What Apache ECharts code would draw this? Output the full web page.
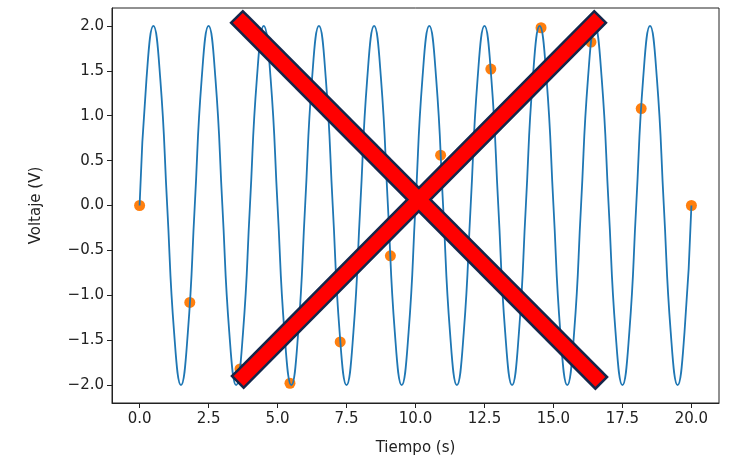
<!DOCTYPE html>
<html style="height: 100%; margin: 0;">
<head>
    <meta charset="utf-8" />
    <title></title>
    <script src="https://cdn.jsdelivr.net/npm/echarts@6/dist/echarts.min.js" type="text/javascript" charset="utf-8"></script>
</head>
<body style="height: 100%; margin: 0; background: #fff;">
<div id="main" style="width: 733px; height: 463px; padding: 0px; margin: 0px;"></div>
<script type="text/javascript">
// senal continua, leida cada 1/8 de periodo (periodo 2 s)
var waveT = [0, 0.25, 0.5, 0.75, 1, 1.25, 1.5, 1.75, 2, 2.25, 2.5, 2.75, 3, 3.25, 3.5, 3.75,
    4, 4.25, 4.5, 4.75, 5, 5.25, 5.5, 5.75, 6, 6.25, 6.5, 6.75, 7, 7.25, 7.5, 7.75,
    8, 8.25, 8.5, 8.75, 9, 9.25, 9.5, 9.75, 10, 10.25, 10.5, 10.75, 11, 11.25, 11.5, 11.75,
    12, 12.25, 12.5, 12.75, 13, 13.25, 13.5, 13.75, 14, 14.25, 14.5, 14.75, 15, 15.25, 15.5, 15.75,
    16, 16.25, 16.5, 16.75, 17, 17.25, 17.5, 17.75, 18, 18.25, 18.5, 18.75, 19, 19.25, 19.5, 19.75, 20];
var waveV = [0, 1.41, 2, 1.41, 0, -1.41, -2, -1.41, 0, 1.41, 2, 1.41, 0, -1.41, -2, -1.41,
    0, 1.41, 2, 1.41, 0, -1.41, -2, -1.41, 0, 1.41, 2, 1.41, 0, -1.41, -2, -1.41,
    0, 1.41, 2, 1.41, 0, -1.41, -2, -1.41, 0, 1.41, 2, 1.41, 0, -1.41, -2, -1.41,
    0, 1.41, 2, 1.41, 0, -1.41, -2, -1.41, 0, 1.41, 2, 1.41, 0, -1.41, -2, -1.41,
    0, 1.41, 2, 1.41, 0, -1.41, -2, -1.41, 0, 1.41, 2, 1.41, 0, -1.41, -2, -1.41, 0];

// muestras (puntos naranjas)
var sampleT = [0, 1.82, 3.64, 5.45, 7.27, 9.09, 10.91, 12.73, 14.55, 16.36, 18.18, 20];
var sampleV = [0, -1.08, -1.82, -1.98, -1.52, -0.56, 0.56, 1.52, 1.98, 1.82, 1.08, 0];

// la cruz roja encima
var cross1 = [[3.74, 2.035], [16.52, -1.91]];
var cross2 = [[3.77, -1.90], [16.48, 2.035]];

var xTicks = [0, 2.5, 5, 7.5, 10, 12.5, 15, 17.5, 20];
var yTicks = [-2, -1.5, -1, -0.5, 0, 0.5, 1, 1.5, 2];

function zip(a, b) {
    var out = [];
    for (var i = 0; i < a.length; i++) out.push([a[i], b[i]]);
    return out;
}
function fmt(v) {
    return v.toFixed(1).replace('-', '\u2212');
}

var font = 'DejaVu Sans';
var myChart = echarts.init(document.getElementById('main'), null, {renderer: 'canvas'});
myChart.setOption({
    animation: false,
    backgroundColor: '#fff',
    textStyle: {fontFamily: font},
    grid: {
        left: 112, right: 14, top: 8, bottom: 60,
        show: true, borderColor: '#222', borderWidth: 1, backgroundColor: '#fff'
    },
    xAxis: {
        type: 'value', min: -1, max: 21,
        name: 'Tiempo (s)', nameLocation: 'middle', nameGap: 38,
        nameTextStyle: {fontSize: 15, color: '#222', fontFamily: font},
        axisLine: {show: true, onZero: false, lineStyle: {color: '#222'}},
        axisTick: {show: true, length: 5, customValues: xTicks, lineStyle: {color: '#222'}},
        axisLabel: {customValues: xTicks, formatter: fmt, fontSize: 15, color: '#222', margin: 9},
        splitLine: {show: false}
    },
    yAxis: {
        type: 'value', min: -2.2, max: 2.2,
        name: 'Voltaje (V)', nameLocation: 'middle', nameGap: 68,
        nameTextStyle: {fontSize: 15, color: '#222', fontFamily: font},
        axisLine: {show: true, onZero: false, lineStyle: {color: '#222'}},
        axisTick: {show: true, length: 5, customValues: yTicks, lineStyle: {color: '#222'}},
        axisLabel: {customValues: yTicks, formatter: fmt, fontSize: 15, color: '#222', margin: 8},
        splitLine: {show: false}
    },
    series: [{
        name: 'senal', type: 'line', data: zip(waveT, waveV),
        smooth: 0.5, showSymbol: false, symbol: 'none',
        lineStyle: {color: '#1f77b4', width: 1.8}
    }, {
        name: 'muestras', type: 'scatter', data: zip(sampleT, sampleV),
        symbolSize: 11, itemStyle: {color: '#ff7f0e', opacity: 1}
    }, {
        name: 'cruz1b', type: 'line', data: cross1, symbol: 'none',
        lineStyle: {color: '#14264a', width: 19, cap: 'square'}
    }, {
        name: 'cruz2b', type: 'line', data: cross2, symbol: 'none',
        lineStyle: {color: '#14264a', width: 19, cap: 'square'}
    }, {
        name: 'cruz1', type: 'line', data: cross1, symbol: 'none',
        lineStyle: {color: '#ff0000', width: 14, cap: 'square'}
    }, {
        name: 'cruz2', type: 'line', data: cross2, symbol: 'none',
        lineStyle: {color: '#ff0000', width: 14, cap: 'square'}
    }]
});
window.onresize = myChart.resize;
</script>
</body>
</html>
